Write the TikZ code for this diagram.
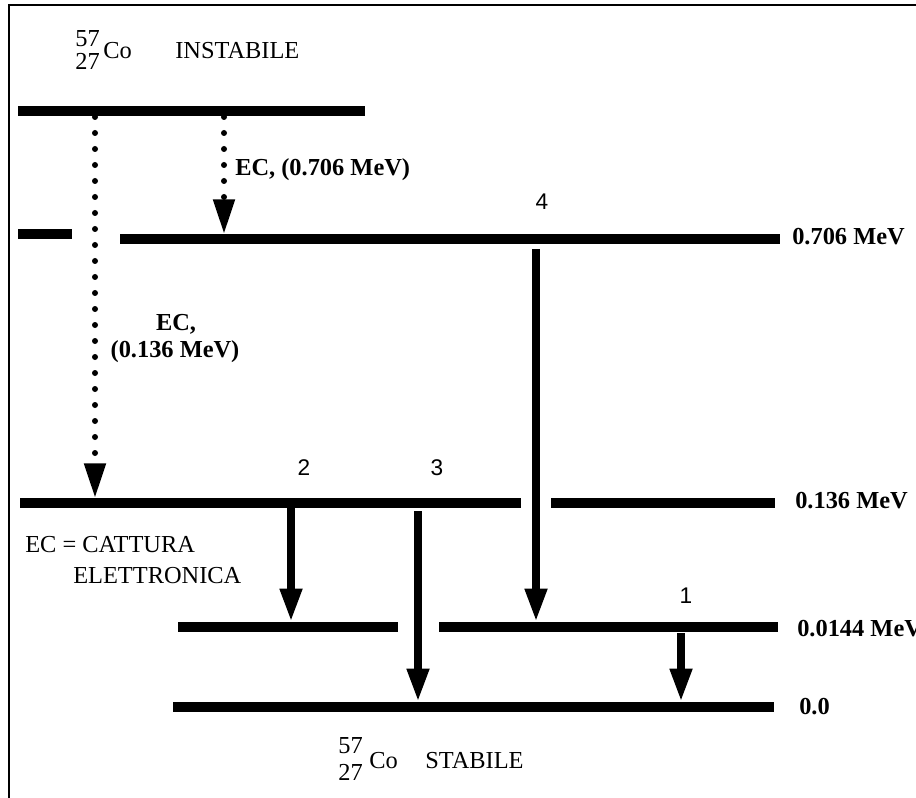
\documentclass[tikz,border=0pt]{standalone}
\usepackage{fontspec}
\setmainfont{Liberation Serif}
\newfontfamily\numfont{Liberation Sans}
\usetikzlibrary{arrows.meta}
\tikzset{
 frame/.style={line width=1.5pt},
 level/.style={line width=7.5pt},
 gline/.style={line width=6pt,-{Triangle[width=15.5pt,length=25pt]}},
 capture/.style={line width=4.5pt,line cap=round,dash pattern=on 0pt off 12pt,-{Triangle[width=15.5pt,length=26pt]}},
 energy/.style={font=\bfseries\fontsize{18.3}{21}\selectfont,anchor=base west,inner sep=0pt},
 eclabel/.style={font=\bfseries\fontsize{18.3}{21}\selectfont,inner sep=0pt},
 txt/.style={font=\fontsize{18.3}{21}\selectfont,anchor=base west,inner sep=0pt},
 num/.style={font=\numfont\fontsize{17}{20}\selectfont,anchor=base,inner sep=0pt}
}
\begin{document}
\begin{tikzpicture}[x=0.75pt,y=-0.75pt]
\useasboundingbox (0,0) rectangle (916,798);
\draw[frame] (9,798) -- (9,5) -- (916,5);
% energy levels
\foreach \xa/\xb/\y in {18/365/111.5,18/72/234,120/780/239,20/521/503,551/775/503,178/398/627,439/778/627,173/774/707}
 \draw[level] (\xa,\y) -- (\xb,\y);
\foreach \name/\x/\y/\txt in {e706/792/245/0.706 MeV,e136/795/508/0.136 MeV,e0144/797/636/0.0144 MeV,e0/799/714/0.0}
 \node[energy] (\name) at (\x,\y) {\txt};
% gamma transitions
\foreach \n/\x/\ya/\yb/\lx/\ly in {4/536/249/622/542/210,2/291/508/622/304/475,3/418/511/702/437/475,1/681/633/702/686/603} {
 \coordinate (g\n-top) at (\x,\ya);
 \coordinate (g\n-end) at (\x,\yb);
 \draw[gline] (g\n-top) -- (g\n-end);
 \node[num] (n\n) at (\lx,\ly) {\n};
}
% electron capture
\coordinate (c1-top) at (95,117);
\coordinate (c1-end) at (95,498);
\coordinate (c2-top) at (224,117);
\coordinate (c2-end) at (224,234);
\draw[capture] (c1-top) -- (c1-end);
\draw[capture] (c2-top) -- (c2-end);
\node[eclabel,anchor=base west] (ec706) at (235,176) {EC, (0.706 MeV)};
\node[eclabel,anchor=base] (ec136a) at (176,330) {EC,};
\node[eclabel,anchor=base] (ec136b) at (175,357) {(0.136 MeV)};
\node[txt] (ecdef) at (25,552) {EC = CATTURA};
\node[txt] (ecdef2) at (73,583) {ELETTRONICA};
% nuclides
\node[txt,anchor=base east] (a-top) at (100,47) {57};
\node[txt,anchor=base east] (z-top) at (100,70) {27};
\node[txt] (co-top) at (103,59) {Co};
\node[txt] (inst) at (175,59) {INSTABILE};
\node[txt,anchor=base east] (a-bot) at (363,753) {57};
\node[txt,anchor=base east] (z-bot) at (363,780) {27};
\node[txt] (co-bot) at (369,768) {Co};
\node[txt] (stab) at (425,768) {STABILE};
\end{tikzpicture}
\end{document}
